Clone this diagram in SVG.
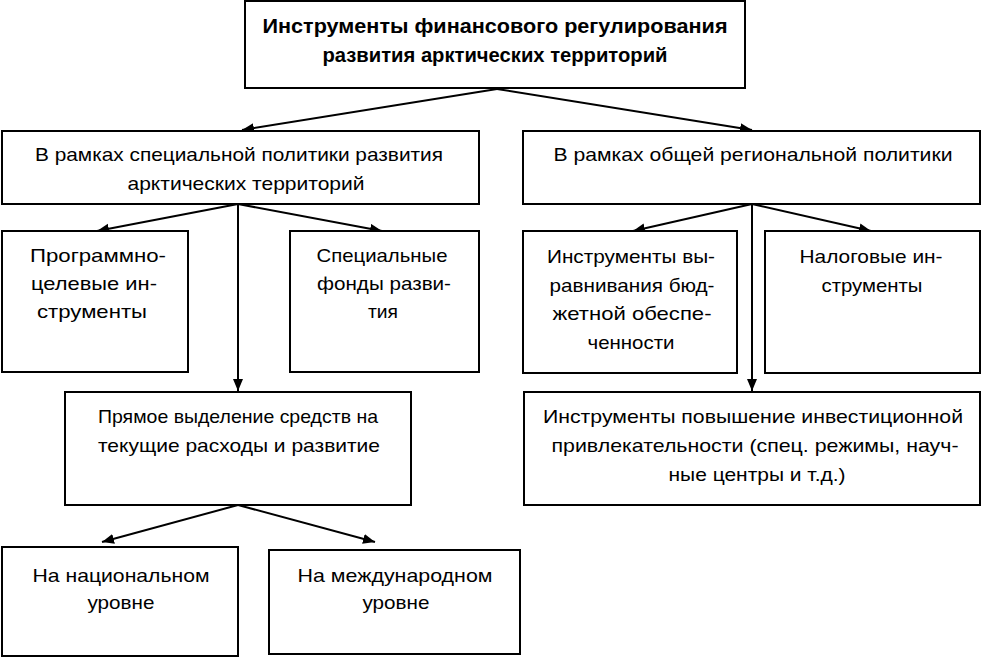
<svg xmlns="http://www.w3.org/2000/svg" width="982" height="657" viewBox="0 0 982 657">
<style>
.box{fill:#fff;stroke:#000;stroke-width:2}
.t{font-family:"Liberation Sans",Arial,sans-serif;font-size:19px;fill:#000;text-anchor:middle}
.b{font-weight:bold;font-size:19.5px}
.c{stroke:#000;stroke-width:2;fill:none}
</style>
<defs>
<marker id="ah" markerUnits="userSpaceOnUse" markerWidth="14" markerHeight="12" refX="12" refY="5" orient="auto">
<path d="M0,0 L12,5 L0,10 Z" fill="#000"/>
</marker>
</defs>
<g id="connectors">
<line class="c" x1="497" y1="89" x2="242" y2="130" marker-end="url(#ah)"/>
<line class="c" x1="497" y1="89" x2="752" y2="130" marker-end="url(#ah)"/>
<line class="c" x1="238" y1="204" x2="97" y2="231" marker-end="url(#ah)"/>
<line class="c" x1="238" y1="204" x2="382" y2="231" marker-end="url(#ah)"/>
<line class="c" x1="238" y1="204" x2="238" y2="391" marker-end="url(#ah)"/>
<line class="c" x1="752" y1="204" x2="633" y2="231" marker-end="url(#ah)"/>
<line class="c" x1="752" y1="204" x2="871" y2="231" marker-end="url(#ah)"/>
<line class="c" x1="752" y1="204" x2="752" y2="391" marker-end="url(#ah)"/>
<line class="c" x1="238" y1="505" x2="102" y2="542" marker-end="url(#ah)"/>
<line class="c" x1="238" y1="505" x2="375" y2="542" marker-end="url(#ah)"/>
</g>
<g id="root">
<rect class="box" x="245" y="1" width="500" height="87"/>
<text class="t b" x="495" y="33" textLength="465" lengthAdjust="spacingAndGlyphs">Инструменты финансового регулирования</text>
<text class="t b" x="495" y="62" textLength="345" lengthAdjust="spacingAndGlyphs">развития арктических территорий</text>
</g>
<g id="special">
<rect class="box" x="2" y="131" width="477" height="73"/>
<text class="t" x="239" y="161" textLength="408" lengthAdjust="spacingAndGlyphs">В рамках специальной политики развития</text>
<text class="t" x="246" y="190" textLength="237" lengthAdjust="spacingAndGlyphs">арктических территорий</text>
</g>
<g id="general">
<rect class="box" x="523" y="131" width="457" height="73"/>
<text class="t" x="753" y="161" textLength="399" lengthAdjust="spacingAndGlyphs">В рамках общей региональной политики</text>
</g>
<g id="program">
<rect class="box" x="2" y="231" width="186" height="141"/>
<text class="t" x="98" y="262" textLength="136" lengthAdjust="spacingAndGlyphs">Программно-</text>
<text class="t" x="94" y="290" textLength="126" lengthAdjust="spacingAndGlyphs">целевые ин-</text>
<text class="t" x="92" y="318" textLength="110" lengthAdjust="spacingAndGlyphs">струменты</text>
</g>
<g id="funds">
<rect class="box" x="290" y="231" width="189" height="141"/>
<text class="t" x="382" y="262" textLength="131" lengthAdjust="spacingAndGlyphs">Специальные</text>
<text class="t" x="384" y="290" textLength="134" lengthAdjust="spacingAndGlyphs">фонды разви-</text>
<text class="t" x="383" y="318" textLength="30" lengthAdjust="spacingAndGlyphs">тия</text>
</g>
<g id="equal">
<rect class="box" x="523" y="231" width="214" height="142"/>
<text class="t" x="631" y="263" textLength="168" lengthAdjust="spacingAndGlyphs">Инструменты вы-</text>
<text class="t" x="632" y="292" textLength="165" lengthAdjust="spacingAndGlyphs">равнивания бюд-</text>
<text class="t" x="632" y="320" textLength="159" lengthAdjust="spacingAndGlyphs">жетной обеспе-</text>
<text class="t" x="631" y="349" textLength="87" lengthAdjust="spacingAndGlyphs">ченности</text>
</g>
<g id="tax">
<rect class="box" x="765" y="231" width="215" height="142"/>
<text class="t" x="871" y="263" textLength="143" lengthAdjust="spacingAndGlyphs">Налоговые ин-</text>
<text class="t" x="872" y="292" textLength="101" lengthAdjust="spacingAndGlyphs">струменты</text>
</g>
<g id="direct">
<rect class="box" x="65" y="392" width="346" height="113"/>
<text class="t" x="238" y="423" textLength="280" lengthAdjust="spacingAndGlyphs">Прямое выделение средств на</text>
<text class="t" x="239" y="452" textLength="282" lengthAdjust="spacingAndGlyphs">текущие расходы и развитие</text>
</g>
<g id="invest">
<rect class="box" x="524" y="392" width="456" height="113"/>
<text class="t" x="753" y="423" textLength="420" lengthAdjust="spacingAndGlyphs">Инструменты повышение инвестиционной</text>
<text class="t" x="755" y="452" textLength="407" lengthAdjust="spacingAndGlyphs">привлекательности (спец. режимы, науч-</text>
<text class="t" x="757" y="481" textLength="177" lengthAdjust="spacingAndGlyphs">ные центры и т.д.)</text>
</g>
<g id="national">
<rect class="box" x="2" y="547" width="236" height="109"/>
<text class="t" x="121" y="582" textLength="177" lengthAdjust="spacingAndGlyphs">На национальном</text>
<text class="t" x="121" y="609" textLength="67" lengthAdjust="spacingAndGlyphs">уровне</text>
</g>
<g id="international">
<rect class="box" x="269" y="550" width="251" height="104"/>
<text class="t" x="395" y="582" textLength="195" lengthAdjust="spacingAndGlyphs">На международном</text>
<text class="t" x="396" y="609" textLength="67" lengthAdjust="spacingAndGlyphs">уровне</text>
</g>
</svg>
